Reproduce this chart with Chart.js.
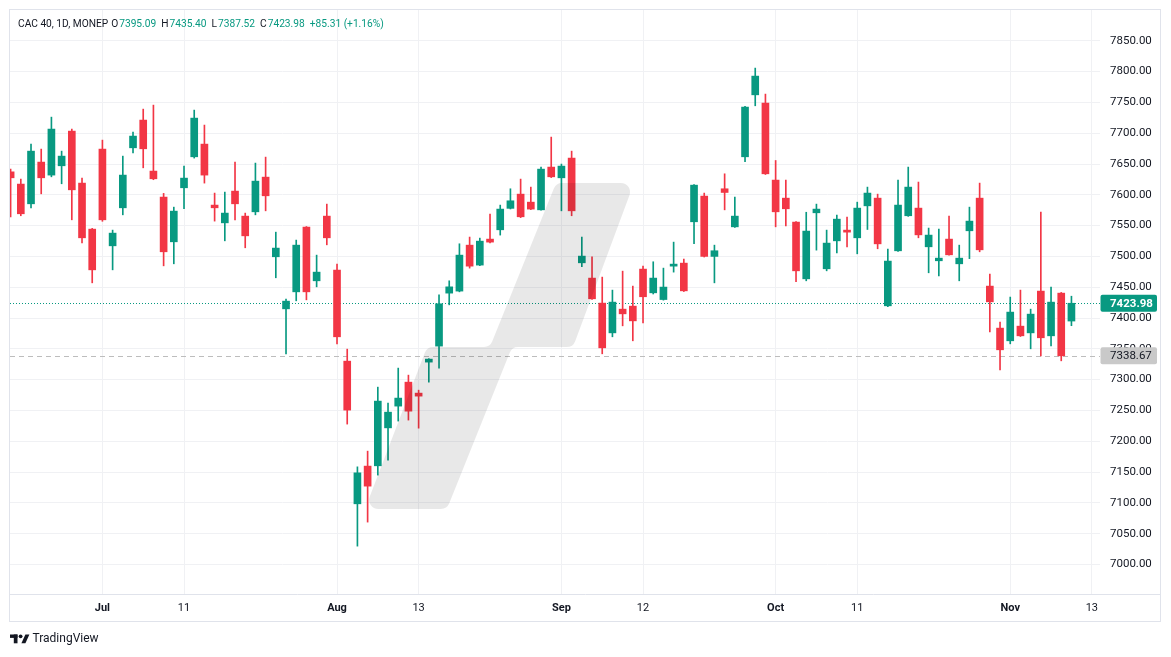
<!DOCTYPE html>
<html>
<head>
<meta charset="utf-8">
<script src="https://cdn.jsdelivr.net/npm/chart.js@4.4.1/dist/chart.umd.min.js"></script>
<style>
  html, body { margin: 0; padding: 0; background: #fff; }
  #wrap { width: 1171px; height: 657px; }
</style>
</head>
<body>
<div id="wrap"><canvas id="cac" width="1171" height="657"></canvas></div>
<script>
// CAC 40 daily bars, Jun 18 - Nov 11 2024
const days = [
  '2024-06-18', '2024-06-19', '2024-06-20', '2024-06-21', '2024-06-24', '2024-06-25', '2024-06-26', '2024-06-27', '2024-06-28',
  '2024-07-01', '2024-07-02', '2024-07-03', '2024-07-04', '2024-07-05', '2024-07-08', '2024-07-09', '2024-07-10', '2024-07-11', '2024-07-12',
  '2024-07-15', '2024-07-16', '2024-07-17', '2024-07-18', '2024-07-19', '2024-07-22', '2024-07-23', '2024-07-24', '2024-07-25', '2024-07-26',
  '2024-07-29', '2024-07-30', '2024-07-31',
  '2024-08-01', '2024-08-02', '2024-08-05', '2024-08-06', '2024-08-07', '2024-08-08', '2024-08-09', '2024-08-12', '2024-08-13', '2024-08-14',
  '2024-08-15', '2024-08-16', '2024-08-19', '2024-08-20', '2024-08-21', '2024-08-22', '2024-08-23', '2024-08-26', '2024-08-27', '2024-08-28',
  '2024-08-29', '2024-08-30',
  '2024-09-02', '2024-09-03', '2024-09-04', '2024-09-05', '2024-09-06', '2024-09-09', '2024-09-10', '2024-09-11', '2024-09-12', '2024-09-13',
  '2024-09-16', '2024-09-17', '2024-09-18', '2024-09-19', '2024-09-20', '2024-09-23', '2024-09-24', '2024-09-25', '2024-09-26', '2024-09-27',
  '2024-09-30',
  '2024-10-01', '2024-10-02', '2024-10-03', '2024-10-04', '2024-10-07', '2024-10-08', '2024-10-09', '2024-10-10', '2024-10-11', '2024-10-14',
  '2024-10-15', '2024-10-16', '2024-10-17', '2024-10-18', '2024-10-21', '2024-10-22', '2024-10-23', '2024-10-24', '2024-10-25', '2024-10-28',
  '2024-10-29', '2024-10-30', '2024-10-31',
  '2024-11-01', '2024-11-04', '2024-11-05', '2024-11-06', '2024-11-07', '2024-11-08', '2024-11-11'
];
const futureDays = ['2024-11-12', '2024-11-13'];

const open = [
  7637.3, 7617.4, 7585.4, 7653.1, 7632.0, 7647.1, 7703.4, 7619.0, 7544.3,
  7674.2, 7517.2, 7578.9, 7676.3, 7721.3, 7638.5, 7596.3, 7523.7, 7611.4, 7661.7, 7682.3, 7583.3, 7554.5, 7606.0, 7565.4, 7572.4, 7628.7, 7499.4, 7414.9, 7442.5, 7547.6, 7460.4, 7565.4,
  7477.8, 7330.0, 7098.4, 7159.6, 7160.1, 7221.7, 7257.0, 7295.9, 7278.1, 7328.4, 7354.4, 7440.4, 7443.7, 7518.3, 7485.9, 7528.1, 7543.2, 7578.0, 7601.1, 7588.1, 7575.6, 7645.0,
  7627.6, 7659.6, 7489.6, 7464.8, 7424.2, 7375.9, 7414.4, 7419.3, 7479.4, 7440.9, 7430.0, 7484.2, 7489.1, 7556.2, 7597.9, 7500.0, 7609.8, 7548.0, 7661.7, 7762.3, 7748.9,
  7623.9, 7594.6, 7555.7, 7463.6, 7570.8, 7479.9, 7525.3, 7542.7, 7530.2, 7582.1, 7594.6, 7419.8, 7509.1, 7566.0, 7578.4, 7515.6, 7492.9, 7528.1, 7488.0, 7541.6, 7594.6, 7451.8, 7383.6,
  7363.0, 7386.8, 7375.9, 7443.7, 7371.1, 7440.4, 7395.09
];
const high = [
  7641.7, 7625.5, 7682.3, 7674.2, 7726.1, 7670.9, 7706.7, 7627.1, 7545.5,
  7688.8, 7542.7, 7662.8, 7701.8, 7739.1, 7745.6, 7602.3, 7580.0, 7646.6, 7737.5, 7713.2, 7602.8, 7604.4, 7653.1, 7570.3, 7651.5, 7661.2, 7539.4, 7430.7, 7526.5, 7548.5, 7502.1, 7584.9,
  7487.5, 7349.5, 7158.4, 7183.9, 7287.8, 7261.8, 7318.7, 7307.3, 7282.9, 7334.0, 7437.7, 7460.4, 7520.5, 7531.4, 7529.7, 7568.7, 7583.3, 7609.8, 7625.5, 7612.5, 7645.0, 7693.7,
  7649.9, 7670.9, 7531.4, 7499.4, 7466.4, 7445.3, 7476.1, 7451.8, 7484.2, 7491.3, 7481.0, 7523.2, 7495.7, 7616.5, 7602.8, 7518.3, 7634.1, 7596.3, 7743.5, 7805.7, 7763.5,
  7655.7, 7623.9, 7556.5, 7571.7, 7584.9, 7542.7, 7567.0, 7563.8, 7588.1, 7612.5, 7601.1, 7511.9, 7623.9, 7645.0, 7620.7, 7546.0, 7544.4, 7565.4, 7518.3, 7580.0, 7619.0, 7471.3, 7393.3,
  7434.0, 7445.3, 7414.4, 7571.9, 7450.2, 7441.5, 7435.40
];
const low = [
  7564.3, 7566.0, 7578.9, 7601.6, 7629.2, 7617.9, 7559.4, 7522.1, 7457.1,
  7557.0, 7478.2, 7567.5, 7668.2, 7643.8, 7624.5, 7484.7, 7488.0, 7577.3, 7659.6, 7619.0, 7557.3, 7525.3, 7559.4, 7514.0, 7567.5, 7574.0, 7465.3, 7341.9, 7427.9, 7429.5, 7450.6, 7518.8,
  7358.1, 7227.8, 7029.7, 7068.7, 7145.0, 7169.3, 7232.7, 7234.3, 7221.2, 7295.9, 7318.7, 7421.4, 7442.5, 7481.0, 7485.0, 7522.0, 7534.6, 7577.0, 7563.0, 7576.0, 7575.0, 7628.0,
  7574.0, 7566.0, 7483.3, 7430.0, 7341.9, 7369.5, 7387.3, 7363.0, 7392.2, 7439.0, 7429.0, 7474.5, 7443.0, 7520.5, 7499.0, 7457.1, 7575.6, 7547.0, 7653.6, 7744.5, 7633.0,
  7548.0, 7549.6, 7458.8, 7460.4, 7510.2, 7476.6, 7505.8, 7515.6, 7504.2, 7543.7, 7512.4, 7418.5, 7508.0, 7565.0, 7530.2, 7473.4, 7468.5, 7502.0, 7460.4, 7496.4, 7507.5, 7377.6, 7315.9,
  7358.1, 7370.0, 7350.0, 7338.6, 7354.7, 7330.5, 7387.52
];
const close = [
  7627.6, 7569.2, 7670.9, 7627.6, 7706.7, 7662.8, 7608.1, 7530.2, 7478.2,
  7559.4, 7537.8, 7632.0, 7695.3, 7674.7, 7626.0, 7507.5, 7573.5, 7627.1, 7724.5, 7632.0, 7578.9, 7570.3, 7585.4, 7533.4, 7622.2, 7598.4, 7513.5, 7427.4, 7518.3, 7442.5, 7474.5, 7530.2,
  7369.5, 7250.5, 7148.7, 7127.1, 7265.1, 7247.2, 7270.0, 7248.8, 7273.2, 7333.3, 7423.1, 7450.6, 7502.1, 7484.2, 7524.8, 7523.2, 7576.8, 7590.3, 7564.3, 7576.8, 7641.7, 7629.2,
  7646.6, 7574.0, 7500.5, 7431.2, 7351.6, 7425.8, 7406.8, 7395.4, 7434.5, 7464.8, 7450.2, 7487.5, 7444.1, 7615.7, 7500.0, 7509.2, 7603.8, 7565.4, 7742.4, 7792.7, 7634.1,
  7572.4, 7577.3, 7476.6, 7541.1, 7576.8, 7521.6, 7560.5, 7539.4, 7578.4, 7602.8, 7520.4, 7492.4, 7583.3, 7612.5, 7535.0, 7534.6, 7497.2, 7502.6, 7497.2, 7557.3, 7510.7, 7426.3, 7348.4,
  7409.6, 7371.1, 7406.3, 7367.9, 7425.8, 7338.67, 7423.98
];

// time axis marks
const tickDays = ['2024-07-01', '2024-07-11', '2024-08-01', '2024-08-13', '2024-09-02', '2024-09-12', '2024-10-01', '2024-10-11', '2024-11-01', '2024-11-13'];
const tickLabels = ['Jul', '11', 'Aug', '13', 'Sep', '12', 'Oct', '11', 'Nov', '13'];

// visible window in bar units (first bar half cut at the left edge)
const viewFrom = -0.06;
const viewTo = 106.8;
const priceFrom = 6952;
const priceTo = 7900;

const UP = '#089981';
const DOWN = '#f23645';
const TEXT = '#131722';
const GRID = '#f0f1f4';
const FRAME = '#e0e3eb';
const FONT = 'Roboto, "Noto Sans", sans-serif';

const calendar = days.concat(futureDays);
const tickIndex = tickDays.map(d => calendar.indexOf(d));
const barColor = days.map((d, i) => close[i] >= open[i] ? UP : DOWN);

const last = days.length - 1;
const lastClose = close[last];
const prevClose = close[last - 1];

const wicks = days.map((d, i) => ({ x: i, y: [low[i], high[i]] }));
const bodies = days.map((d, i) => ({ x: i, y: [open[i], close[i]] }));

function roundedPoly(ctx, pts, r) {
  const n = pts.length;
  const a = pts[n - 1], b = pts[0];
  ctx.beginPath();
  ctx.moveTo((a[0] + b[0]) / 2, (a[1] + b[1]) / 2);
  for (let i = 0; i < n; i++) {
    const p = pts[i], q = pts[(i + 1) % n];
    ctx.arcTo(p[0], p[1], q[0], q[1], r);
  }
  ctx.closePath();
}

const decor = {
  id: 'decor',
  beforeDatasetsDraw(chart) {
    const ctx = chart.ctx;
    const area = chart.chartArea;
    const y = chart.scales.y;
    ctx.save();
    ctx.lineWidth = 1;
    // previous close, dashed grey
    let py = Math.round(y.getPixelForValue(prevClose)) + 0.5;
    ctx.strokeStyle = '#bdbdbd';
    ctx.setLineDash([5, 4]);
    ctx.beginPath();
    ctx.moveTo(area.left, py);
    ctx.lineTo(area.right, py);
    ctx.stroke();
    // last price, dotted green
    py = Math.round(y.getPixelForValue(lastClose)) + 0.5;
    ctx.strokeStyle = UP;
    ctx.setLineDash([1, 2]);
    ctx.beginPath();
    ctx.moveTo(area.left, py);
    ctx.lineTo(area.right, py);
    ctx.stroke();
    ctx.restore();
  },
  afterDatasetsDraw(chart) {
    // big grey watermark stroke
    const ctx = chart.ctx;
    ctx.save();
    ctx.fillStyle = 'rgba(0, 0, 0, 0.09)';
    roundedPoly(ctx, [
      [365, 509], [447, 509], [512, 347], [573, 347], [634, 183],
      [556, 183], [490, 347], [427, 347]
    ], 9);
    ctx.fill();
    ctx.restore();
  },
  afterDraw(chart) {
    const ctx = chart.ctx;
    const area = chart.chartArea;
    const y = chart.scales.y;
    ctx.save();

    // pane frame and time axis separator
    ctx.strokeStyle = FRAME;
    ctx.lineWidth = 1;
    ctx.strokeRect(area.left - 0.5, area.top - 0.5, 1151, 612);
    ctx.beginPath();
    ctx.moveTo(area.left, area.bottom + 0.5);
    ctx.lineTo(area.left + 1151, area.bottom + 0.5);
    ctx.stroke();

    // price labels on the axis
    ctx.textBaseline = 'middle';
    ctx.textAlign = 'left';
    const tag = (value, bg, fg, weight) => {
      const cy = y.getPixelForValue(value);
      ctx.fillStyle = bg;
      ctx.beginPath();
      ctx.roundRect(area.right + 0.5, cy - 8.5, 56.5, 17, 2);
      ctx.fill();
      ctx.fillStyle = fg;
      ctx.font = weight + ' 11.5px ' + FONT;
      ctx.fillText(value.toFixed(2), area.right + 10, cy + 0.5);
    };
    tag(prevClose, '#c9c9c9', TEXT, 'normal');
    tag(lastClose, UP, '#ffffff', 'bold');

    // header line
    const chg = lastClose - prevClose;
    const pct = chg / prevClose * 100;
    const valCol = barColor[last];
    const parts = [
      ['CAC 40, 1D, MONEP', TEXT, 3],
      ['O', TEXT, 1], [open[last].toFixed(2), valCol, 5],
      ['H', TEXT, 1], [high[last].toFixed(2), valCol, 5],
      ['L', TEXT, 1], [low[last].toFixed(2), valCol, 5],
      ['C', TEXT, 1], [close[last].toFixed(2), valCol, 5],
      [(chg >= 0 ? '+' : '') + chg.toFixed(2) + ' (' + (chg >= 0 ? '+' : '') + pct.toFixed(2) + '%)', valCol, 0]
    ];
    ctx.font = '10.2px ' + FONT;
    let x = 18;
    parts.forEach(p => {
      ctx.fillStyle = p[1];
      ctx.fillText(p[0], x, 24.5);
      x += ctx.measureText(p[0]).width + p[2];
    });

    // TradingView mark
    ctx.fillStyle = TEXT;
    ctx.fillRect(10, 634.5, 7.5, 3.4);
    ctx.fillRect(13.8, 634.5, 3.7, 8.8);
    ctx.beginPath();
    ctx.arc(20.6, 636.3, 1.9, 0, Math.PI * 2);
    ctx.fill();
    ctx.beginPath();
    ctx.moveTo(25.4, 634.5);
    ctx.lineTo(29.4, 634.5);
    ctx.lineTo(25.4, 643.3);
    ctx.lineTo(21.4, 643.3);
    ctx.closePath();
    ctx.fill();
    ctx.font = '12px ' + FONT;
    ctx.fillText('TradingView', 32.5, 639);
    ctx.restore();
  }
};

new Chart(document.getElementById('cac'), {
  type: 'bar',
  data: {
    datasets: [{
      label: 'wick',
      data: wicks,
      backgroundColor: barColor,
      barThickness: 1,
      grouped: false,
      order: 2
    }, {
      label: 'body',
      data: bodies,
      backgroundColor: barColor,
      barThickness: 7,
      minBarLength: 1,
      grouped: false,
      order: 1
    }]
  },
  options: {
    responsive: false,
    animation: false,
    events: [],
    layout: { padding: { left: 10, top: 10, right: 0, bottom: 0 } },
    plugins: {
      legend: { display: false },
      tooltip: { enabled: false }
    },
    scales: {
      x: {
        type: 'linear',
        min: viewFrom,
        max: viewTo,
        offset: false,
        grid: { color: GRID, drawTicks: false, offset: false },
        border: { display: false },
        afterBuildTicks: scale => { scale.ticks = tickIndex.map(v => ({ value: v })); },
        afterFit: scale => { scale.height = 63; },
        ticks: {
          autoSkip: false,
          maxRotation: 0,
          padding: 8,
          color: TEXT,
          font: c => ({
            family: FONT,
            size: 11,
            weight: c.tick && isNaN(tickLabels[tickIndex.indexOf(c.tick.value)]) ? 'bold' : 'normal'
          }),
          callback: v => tickLabels[tickIndex.indexOf(v)]
        }
      },
      y: {
        position: 'right',
        min: priceFrom,
        max: priceTo,
        grid: { color: GRID, drawTicks: false },
        border: { display: false },
        afterBuildTicks: scale => {
          const t = [];
          for (let v = 7000; v <= 7850; v += 50) t.push({ value: v });
          scale.ticks = t;
        },
        afterFit: scale => {
          scale.width = 71;
          scale.paddingTop = 0;
          scale.paddingBottom = 0;
        },
        ticks: {
          padding: 10,
          color: TEXT,
          font: { family: FONT, size: 11.5, lineHeight: 0.05 },
          callback: v => v.toFixed(2)
        }
      }
    }
  },
  plugins: [decor]
});
</script>
</body>
</html>
